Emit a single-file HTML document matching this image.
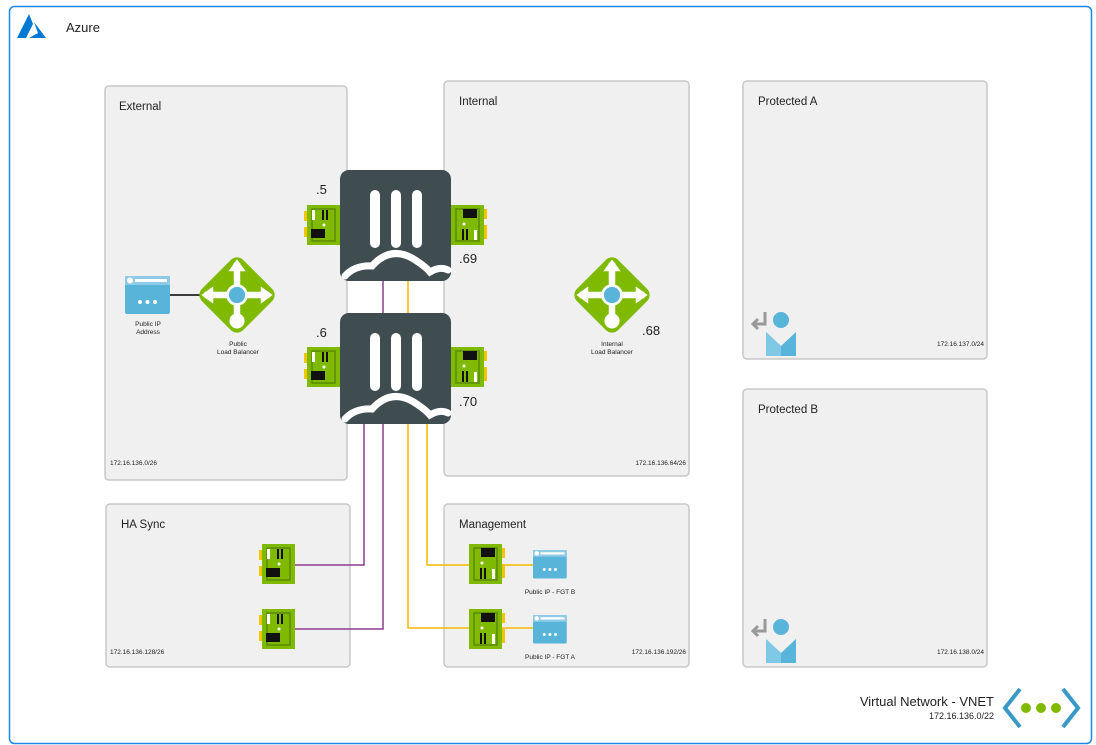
<!DOCTYPE html>
<html><head><meta charset="utf-8"><style>
html,body{margin:0;padding:0;background:#fff;}
svg{display:block;font-family:"Liberation Sans",Arial,sans-serif;}
</style></head><body>
<svg width="1096" height="745" viewBox="0 0 1096 745" xmlns="http://www.w3.org/2000/svg">
<defs>
<g id="nicL">
 <rect x="-3" y="6" width="4" height="10" fill="#f5c400"/>
 <rect x="-3" y="22" width="4" height="10" fill="#f5c400"/>
 <rect x="0" y="0" width="33" height="40" fill="#7fba00"/>
 <path d="M5 4 H28 V36 H5 Z" fill="none" stroke="#5c8a00" stroke-width="1.5"/>
 <rect x="5" y="5" width="3" height="10" fill="#fff"/>
 <rect x="15" y="5" width="2" height="10" fill="#111"/>
 <rect x="19" y="5" width="2" height="10" fill="#111"/>
 <circle cx="17" cy="20" r="1.5" fill="#fff"/>
 <rect x="4" y="24" width="14" height="9" fill="#111"/>
</g>
<g id="nicR">
 <rect x="32" y="4" width="4" height="10" fill="#f5c400"/>
 <rect x="32" y="20" width="4" height="14" fill="#f5c400"/>
 <rect x="0" y="0" width="33" height="40" fill="#7fba00"/>
 <path d="M5 4 H28 V36 H5 Z" fill="none" stroke="#5c8a00" stroke-width="1.5"/>
 <rect x="12" y="4" width="14" height="9" fill="#111"/>
 <circle cx="13" cy="19" r="1.5" fill="#fff"/>
 <rect x="11" y="24" width="2" height="11" fill="#111"/>
 <rect x="15" y="24" width="2" height="11" fill="#111"/>
 <rect x="23" y="25" width="3" height="10" fill="#fff"/>
</g>
<g id="fgt">
 <rect x="0" y="0" width="111" height="111" rx="9" fill="#3f4d50"/>
 <rect x="30" y="20" width="10" height="58" rx="5" fill="#fff"/>
 <rect x="51" y="20" width="10" height="58" rx="5" fill="#fff"/>
 <rect x="72" y="20" width="10" height="58" rx="5" fill="#fff"/>
 <path d="M5 106 Q15 95 32 96 Q50 76 72 88 Q85 96 90 102 Q100 96 108 100" fill="none" stroke="#fff" stroke-width="7" stroke-linecap="round"/>
</g>
<g id="pip">
 <rect x="0" y="0" width="45" height="38" rx="2" fill="#59b4d9"/>
 <rect x="0" y="0" width="45" height="9" fill="#8fcbe6"/>
 <circle cx="5" cy="4.5" r="3" fill="#fff"/>
 <rect x="10" y="3" width="32" height="3" fill="#fff"/>
 <circle cx="15" cy="26" r="2" fill="#fff"/><circle cx="22.5" cy="26" r="2" fill="#fff"/><circle cx="30" cy="26" r="2" fill="#fff"/>
</g>
<g id="lb">
 <rect x="-27" y="-27" width="54" height="54" rx="8" transform="rotate(45)" fill="#7fba00"/>
 <path d="M0 -30 L0 22 M-30 0 L30 0" stroke="#fff" stroke-width="6"/>
 <path d="M0 -33 L-8 -22 L8 -22 Z M-33 0 L-22 -8 L-22 8 Z M33 0 L22 -8 L22 8 Z" fill="#fff"/>
 <circle cx="0" cy="24" r="7" fill="#fff"/>
 <circle cx="0" cy="0" r="10" fill="#fff"/>
 <circle cx="0" cy="0" r="7.5" fill="#59b4d9"/>
</g>
<g id="user">
 <path d="M17 4 V16 H6 M10 11 L5 16 L10 21" fill="none" stroke="#999" stroke-width="3"/>
 <circle cx="33" cy="12" r="8" fill="#59b4d9"/>
 <path d="M18 24 L33 38 L48 24 V48 H18 Z" fill="#59b4d9"/>
 <path d="M18 24 L33 38 V48 H18 Z" fill="#7fc8e6"/>
</g>
</defs>

<rect x="9.5" y="6.5" width="1082" height="737" rx="5" fill="#fff" stroke="#1e88e5" stroke-width="1.5"/>
<path d="M29 14 L17 38 L26 38 L33 24 Z" fill="#0078d4"/>
<path d="M34 22 L46 38 L29 38 L38 33 Z" fill="#0078d4"/>
<text x="66" y="32" font-size="13" fill="#222">Azure</text>

<g fill="#f0f0f0" stroke="#c8c8c8" stroke-width="1.5">
 <rect x="105" y="86" width="242" height="394" rx="4"/>
 <rect x="444" y="81" width="245" height="395" rx="4"/>
 <rect x="743" y="81" width="244" height="278" rx="4"/>
 <rect x="743" y="389" width="244" height="278" rx="4"/>
 <rect x="106" y="504" width="244" height="163" rx="4"/>
 <rect x="444" y="504" width="245" height="163" rx="4"/>
</g>
<g font-size="11.5" fill="#222">
 <text x="119" y="110">External</text>
 <text x="459" y="105">Internal</text>
 <text x="758" y="105">Protected A</text>
 <text x="758" y="413">Protected B</text>
 <text x="121" y="528">HA Sync</text>
 <text x="459" y="528">Management</text>
</g>
<g font-size="6.5" fill="#222">
 <text x="110" y="465">172.16.136.0/26</text>
 <text x="686" y="465" text-anchor="end">172.16.136.64/26</text>
 <text x="984" y="346" text-anchor="end">172.16.137.0/24</text>
 <text x="984" y="654" text-anchor="end">172.16.138.0/24</text>
 <text x="110" y="654">172.16.136.128/26</text>
 <text x="686" y="654" text-anchor="end">172.16.136.192/26</text>
</g>

<g fill="none" stroke-width="1.5">
 <path d="M383 281 V313" stroke="#8b3c8f"/>
 <path d="M408 281 V313" stroke="#f5b800"/>
 <path d="M364 423 V565 H293" stroke="#8b3c8f"/>
 <path d="M383 423 V629 H293" stroke="#8b3c8f"/>
 <path d="M427 423 V565 H533" stroke="#f5b800"/>
 <path d="M408 423 V628 H533" stroke="#f5b800"/>
 <path d="M170 295 H205" stroke="#000"/>
</g>

<use href="#fgt" x="340" y="170"/>
<use href="#fgt" x="340" y="313"/>
<use href="#nicL" x="307" y="205"/>
<use href="#nicR" x="451" y="205"/>
<use href="#nicL" x="307" y="347"/>
<use href="#nicR" x="451" y="347"/>
<use href="#nicL" x="262" y="544"/>
<use href="#nicL" x="262" y="609"/>
<use href="#nicR" x="469" y="544"/>
<use href="#nicR" x="469" y="609"/>

<g font-size="13" fill="#222">
 <text x="316" y="194">.5</text>
 <text x="459" y="263">.69</text>
 <text x="316" y="337">.6</text>
 <text x="459" y="406">.70</text>
 <text x="642" y="335">.68</text>
</g>

<use href="#pip" x="125" y="276"/>
<g transform="translate(533,550) scale(0.75)"><use href="#pip"/></g>
<g transform="translate(533,615) scale(0.75)"><use href="#pip"/></g>
<g transform="translate(237,295) scale(1.08)"><use href="#lb"/></g>
<g transform="translate(612,295) scale(1.08)"><use href="#lb"/></g>

<g font-size="6.5" fill="#222" text-anchor="middle">
 <text x="148" y="326">Public IP</text><text x="148" y="334">Address</text>
 <text x="238" y="346">Public</text><text x="238" y="354">Load Balancer</text>
 <text x="612" y="346">Internal</text><text x="612" y="354">Load Balancer</text>
 <text x="550" y="594">Public IP - FGT B</text>
 <text x="550" y="659">Public IP - FGT A</text>
</g>

<use href="#user" x="748" y="308"/>
<use href="#user" x="748" y="615"/>

<text x="994" y="706" font-size="13" fill="#222" text-anchor="end">Virtual Network - VNET</text>
<text x="994" y="719" font-size="9" fill="#222" text-anchor="end">172.16.136.0/22</text>
<path d="M1020 689 L1005 708 L1020 727 M1063 689 L1078 708 L1063 727" fill="none" stroke="#3999c6" stroke-width="4"/>
<circle cx="1026" cy="708" r="5" fill="#7fba00"/>
<circle cx="1041" cy="708" r="5" fill="#7fba00"/>
<circle cx="1056" cy="708" r="5" fill="#7fba00"/>
</svg>
</body></html>
